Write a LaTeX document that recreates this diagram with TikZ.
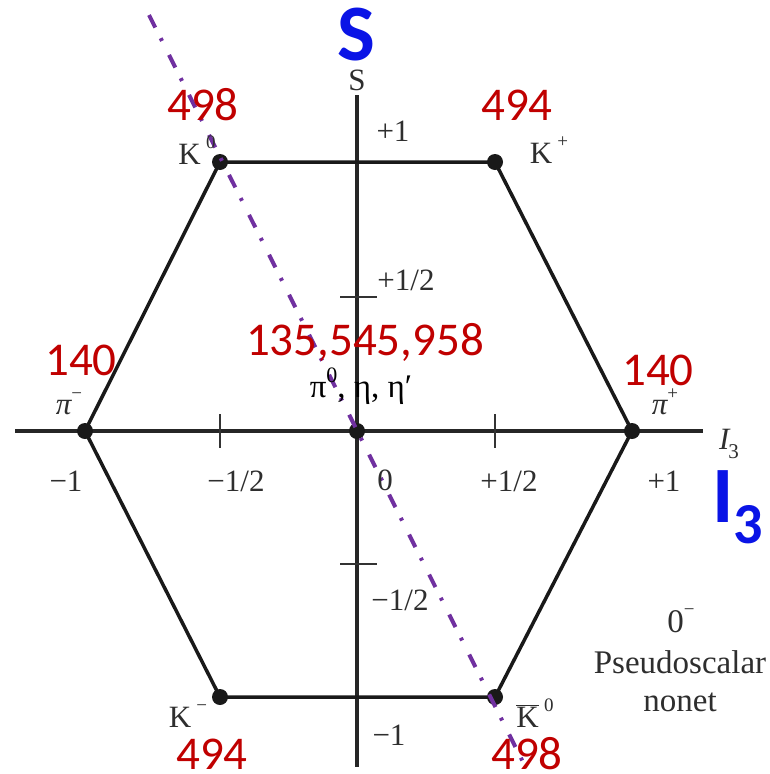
\documentclass[tikz,border=0pt]{standalone}
\usepackage{fontspec}
\setmainfont{Liberation Serif}
\newfontfamily\calfont{Carlito}
\definecolor{massred}{HTML}{C00000}
\definecolor{axblue}{HTML}{0A14E6}
\definecolor{cutpurple}{HTML}{7030A0}
\definecolor{labgray}{HTML}{2E2E2E}
\newcommand{\upx}[1]{\raisebox{0.5em}{\fontsize{19}{19}\selectfont #1}}
\begin{document}
\begin{tikzpicture}[x=1pt,y=-1pt,
  dotnode/.style={circle,fill=black!90,inner sep=0pt,minimum size=16pt},
  axisline/.style={line width=3.5pt,black!85},
  tickline/.style={line width=2.8pt,black!80},
  hexline/.style={line width=3.5pt,black!90,line join=round},
  lbl/.style={text=labgray,font=\fontsize{31}{31}\selectfont,inner sep=0pt},
  biglbl/.style={text=labgray,font=\fontsize{33}{33}\selectfont,inner sep=0pt},
  mass/.style={text=massred,font=\calfont\fontsize{47}{47}\selectfont,inner sep=0pt},
  axname/.style={text=axblue,font=\calfont\bfseries\fontsize{80}{80}\selectfont,inner sep=0pt},
  cutline/.style={cutpurple,line width=4pt,dash pattern=on 14pt off 12pt on 3pt off 15.7pt}]
\useasboundingbox (0,0) rectangle (769,774);
\fill[white] (0,0) rectangle (769,774);

% axes
\coordinate (vtop) at (357,95);
\coordinate (vbot) at (357,767);
\coordinate (hleft) at (15,431);
\coordinate (hright) at (703,431);
\draw[axisline] (vtop) -- (vbot);
\draw[axisline] (hleft) -- (hright);

% ticks
\coordinate (tx1a) at (220,414); \coordinate (tx1b) at (220,448);
\coordinate (tx2a) at (495,414); \coordinate (tx2b) at (495,448);
\coordinate (ty1a) at (340,297); \coordinate (ty1b) at (377,297);
\coordinate (ty2a) at (340,564); \coordinate (ty2b) at (377,564);
\draw[tickline] (tx1a) -- (tx1b);
\draw[tickline] (tx2a) -- (tx2b);
\draw[tickline] (ty1a) -- (ty1b);
\draw[tickline] (ty2a) -- (ty2b);

% vertices
\node[dotnode] (K0) at (220,162) {};
\node[dotnode] (Kp) at (495,162) {};
\node[dotnode] (pip) at (632,431) {};
\node[dotnode] (K0b) at (495,697) {};
\node[dotnode] (Km) at (220,697) {};
\node[dotnode] (pim) at (85,431) {};
\node[dotnode] (ctr) at (357,431) {};

\draw[hexline] (K0.center) -- (Kp.center) -- (pip.center) -- (K0b.center) -- (Km.center) -- (pim.center) -- cycle;

% dash-dot line
\coordinate (ctop) at (149,15);
\coordinate (cbot) at (527,770);
\draw[cutline] (ctop) -- (cbot);

% axis labels
\node[lbl] (sname) at (357,80) {S};
\node[lbl] (iname) at (729,444) {\itshape I\kern-1pt\raisebox{-0.3em}{\fontsize{21}{21}\selectfont\upshape 3}};
\node[lbl] (yp1) at (393,131) {+1};
\node[lbl] (yph) at (406,280) {+1/2};
\node[lbl] (ymh) at (400,600) {−1/2};
\node[lbl] (ym1) at (389,735) {−1};
\node[lbl] (x0) at (385,480) {0};
\node[lbl] (xm1) at (66,481) {−1};
\node[lbl] (xmh) at (236,481) {−1/2};
\node[lbl] (xph) at (509,481) {+1/2};
\node[lbl] (xp1) at (664,481) {+1};

% particle labels
\node[lbl] (lK0) at (197,150) {K\,\upx{0}};
\node[lbl] (lKp) at (549,150) {K\,\upx{+}};
\node[lbl] (lpim) at (69,404) {\itshape π\upx{\upshape −}};
\node[lbl] (lpip) at (665,402) {\itshape π\upx{\upshape +}};
\node[lbl] (lKm) at (188,716) {K\,\upx{−}};
\node[lbl] (lK0b) at (535,713) {$\overline{\mbox{K}}$\,\upx{0}};
\node[text=black,font=\fontsize{33}{33}\selectfont,inner sep=0pt] (lcent) at (361,386) {π\raisebox{0.45em}{\fontsize{22}{22}\selectfont 0}, η, η′};

% nonet caption
\node[biglbl] (c0) at (681,621) {0\upx{−}};
\node[biglbl] (c1) at (680,662) {Pseudoscalar};
\node[biglbl] (c2) at (680,702) {nonet};

% masses
\node[mass] (m1) at (203,105) {498};
\node[mass] (m2) at (517,105) {494};
\node[mass] (m3) at (81,360) {140};
\node[mass] (m4) at (658,370) {140};
\node[mass] (m5) at (365,342) {135,545,958};
\node[mass] (m6) at (212,754) {494};
\node[mass] (m7) at (527,754) {498};

% blue axis names
\node[axname] (bS) at (356,35) {S};
\node[axname] (bI) at (723,497) {I};
\node[text=axblue,font=\calfont\bfseries\fontsize{58}{58}\selectfont,inner sep=0pt] (b3) at (748,525) {3};
\end{tikzpicture}
\end{document}
